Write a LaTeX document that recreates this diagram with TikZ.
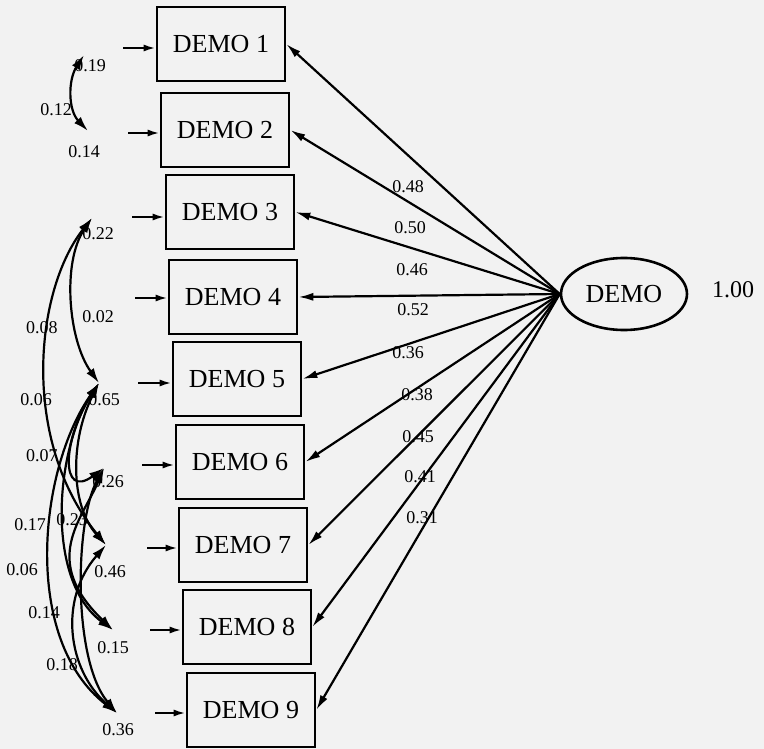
\documentclass[tikz,border=0pt]{standalone}
\usepackage{fontspec}
\setmainfont{Liberation Serif}
\usetikzlibrary{arrows.meta,shapes.geometric}
\begin{document}
\begin{tikzpicture}[x=1pt,y=-1pt,
  obs/.style={draw,line width=2.6pt,minimum width=128pt,minimum height=74pt,inner sep=0pt,font=\fontsize{26}{28}\selectfont},
  lat/.style={draw,ellipse,line width=2.6pt,minimum width=126pt,minimum height=72pt,inner sep=0pt,font=\fontsize{26}{28}\selectfont},
  load/.style={line width=2.2pt,-{Latex[length=15pt,width=8pt]}},
  errarr/.style={line width=2.2pt,-{Latex[length=12pt,width=7pt]}},
  cov/.style={line width=2.2pt,{Latex[length=15pt,width=9pt]}-{Latex[length=15pt,width=9pt]}},
  lbl/.style={font=\fontsize{18}{20}\selectfont,inner sep=0pt},
  big/.style={font=\fontsize{24}{26}\selectfont,inner sep=0pt},
]
\fill[black!5] (0,0) rectangle (764,749);
\useasboundingbox (0,0) rectangle (764,749);

% observed variables
\node[obs] (b1) at (221,44) {DEMO 1};
\node[obs] (b2) at (225,130) {DEMO 2};
\node[obs] (b3) at (230,212) {DEMO 3};
\node[obs] (b4) at (233,297) {DEMO 4};
\node[obs] (b5) at (237,379) {DEMO 5};
\node[obs] (b6) at (240,462) {DEMO 6};
\node[obs] (b7) at (243,545) {DEMO 7};
\node[obs] (b8) at (247,627) {DEMO 8};
\node[obs] (b9) at (251,710) {DEMO 9};

% latent
\node[lat] (f) at (624,294) {DEMO};
\node[big] (fv) at (733,290) {1.00};

% loadings
\foreach \i in {1,...,9}{\draw[load] (f.west) -- (b\i.east);}
\node[lbl] (l1) at (408,187) {0.48};
\node[lbl] (l2) at (410,228) {0.50};
\node[lbl] (l3) at (412,270) {0.46};
\node[lbl] (l4) at (413,310) {0.52};
\node[lbl] (l5) at (408,353) {0.36};
\node[lbl] (l6) at (417,395) {0.38};
\node[lbl] (l7) at (418,437) {0.45};
\node[lbl] (l8) at (420,477) {0.41};
\node[lbl] (l9) at (422,518) {0.31};

% error arrows
\coordinate (u1) at (123,48);
\coordinate (u2) at (128,133);
\coordinate (u3) at (132,217);
\coordinate (u4) at (135,298);
\coordinate (u5) at (138,383);
\coordinate (u6) at (142,465);
\coordinate (u7) at (147,548);
\coordinate (u8) at (150,630);
\coordinate (u9) at (155,713);
\foreach \i in {1,...,9}{\draw[errarr] (u\i) -- (u\i -| b\i.west);}

% error variance labels
\node[lbl] (v1) at (90,66) {0.19};
\node[lbl] (v2) at (84,152) {0.14};
\node[lbl] (v3) at (98,234) {0.22};
\node[lbl] (v5) at (104,400) {0.65};
\node[lbl] (v6) at (108,482) {0.26};
\node[lbl] (v7) at (110,572) {0.46};
\node[lbl] (v8) at (113,648) {0.15};
\node[lbl] (v9) at (118,730) {0.36};

% covariance end points
\coordinate (c1) at (84,55);
\coordinate (c2) at (88,131);
\coordinate (c3) at (92,218);
\coordinate (c5) at (99,383);
\coordinate (c6) at (104,468);
\coordinate (c7) at (106,545);
\coordinate (c8) at (113,630);
\coordinate (c9) at (117,713);

% covariances
\draw[cov] (c1) .. controls (68,80) and (68,110) .. (c2);
\draw[cov] (c3) .. controls (62,262) and (68,340) .. (c5);
\draw[cov] (c3) .. controls (35,290) and (20,440) .. (c7);
\draw[cov] (c5) .. controls (62,440) and (60,500) .. (c6);
\draw[cov] (c5) .. controls (70,440) and (70,505) .. (c7);
\draw[cov] (c5) .. controls (55,450) and (45,580) .. (c8);
\draw[cov] (c5) .. controls (38,470) and (22,640) .. (c9);
\draw[cov] (c6) .. controls (82,520) and (40,560) .. (c8);
\draw[cov] (c6) .. controls (75,520) and (72,660) .. (c9);
\draw[cov] (c7) .. controls (58,600) and (68,670) .. (c9);

% covariance labels
\node[lbl] (k1) at (56,110) {0.12};
\node[lbl] (k2) at (98,317) {0.02};
\node[lbl] (k3) at (42,328) {0.08};
\node[lbl] (k4) at (36,400) {0.06};
\node[lbl] (k5) at (42,456) {0.07};
\node[lbl] (k6) at (30,525) {0.17};
\node[lbl] (k7) at (72,520) {0.23};
\node[lbl] (k8) at (22,570) {0.06};
\node[lbl] (k9) at (44,613) {0.14};
\node[lbl] (k10) at (62,665) {0.18};
\end{tikzpicture}
\end{document}
